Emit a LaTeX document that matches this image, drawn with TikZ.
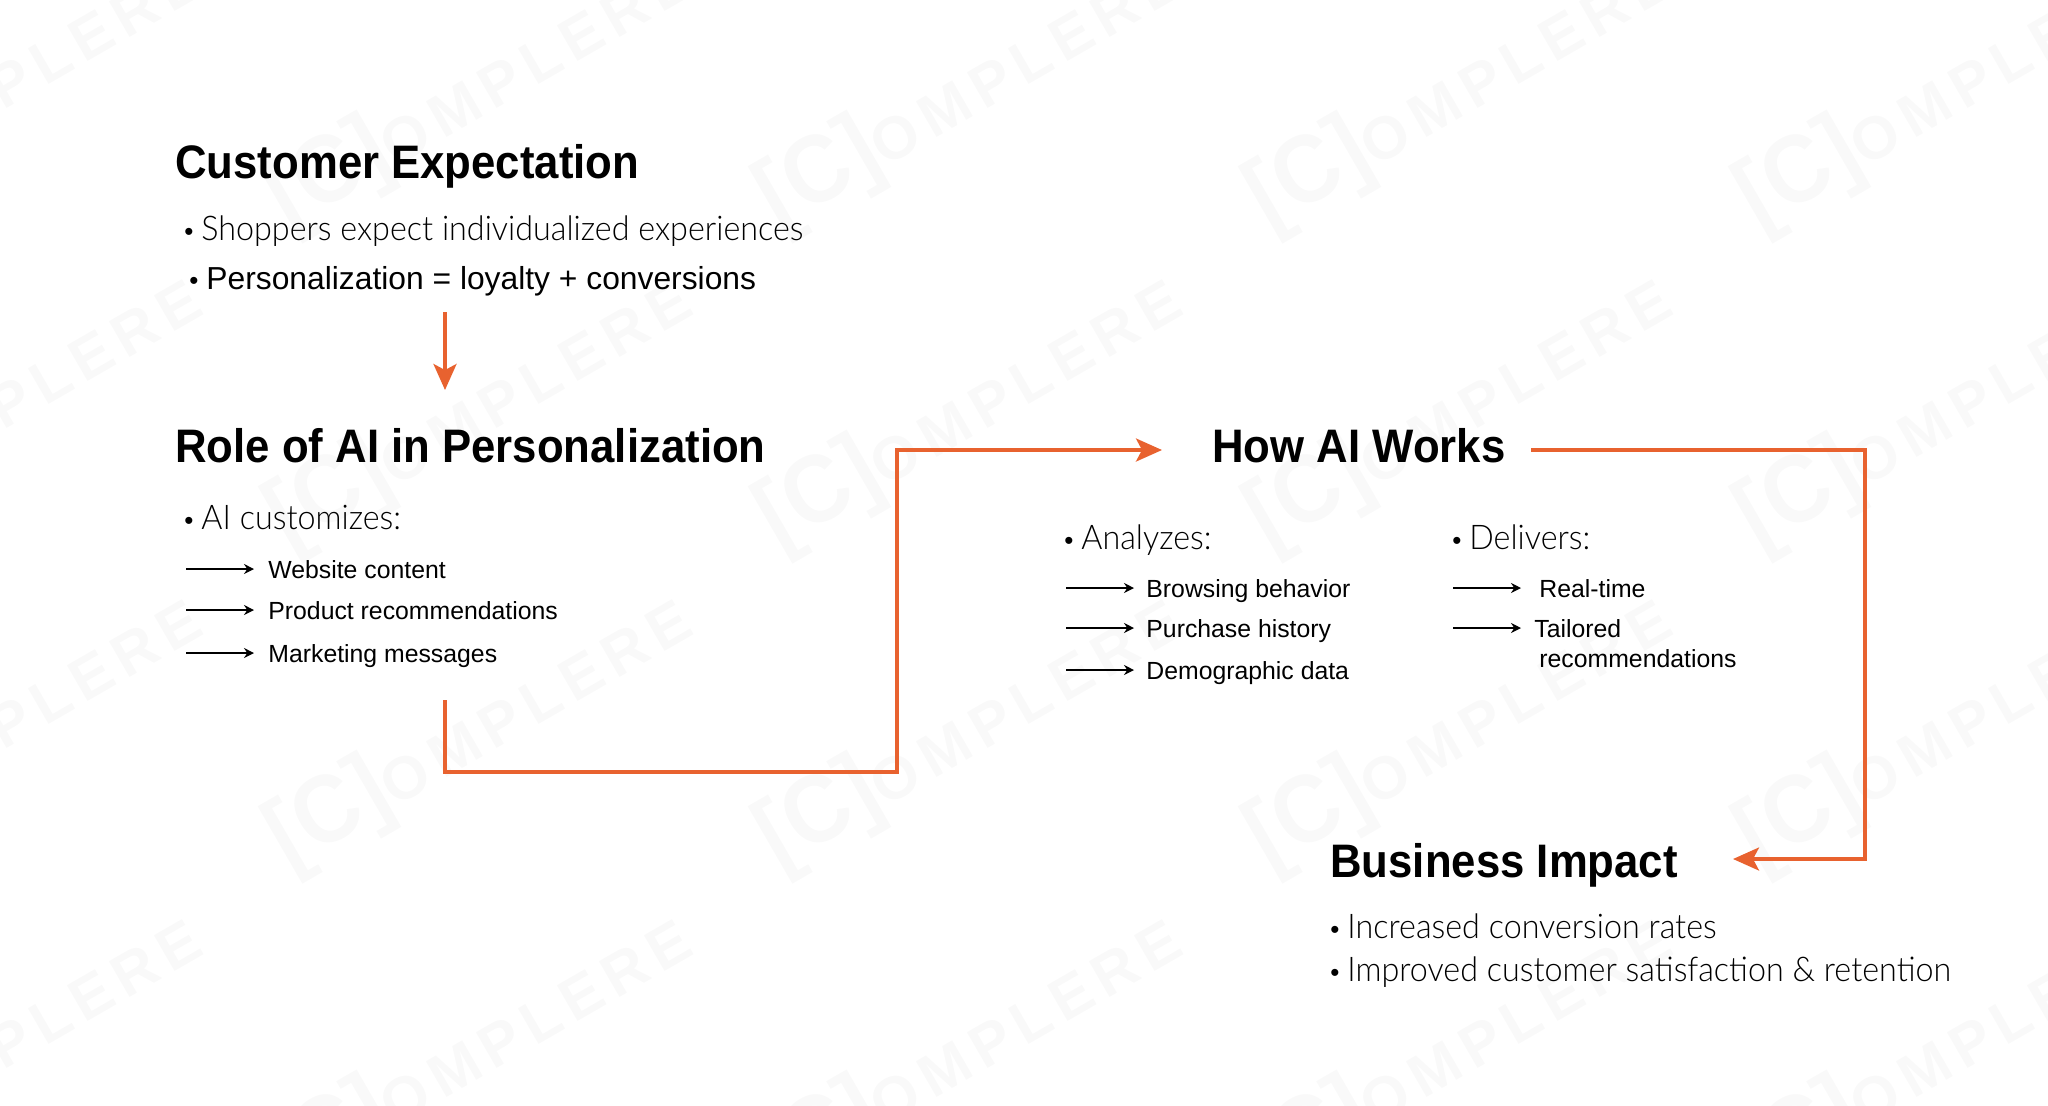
\documentclass[tikz,border=0pt]{standalone}
\usepackage{fontspec}
\setmainfont{Liberation Sans}
\newfontfamily\headfont[FakeStretch=0.93]{Liberation Sans Bold}
\newfontfamily\lightfont[FakeStretch=0.95]{Lato Light}
\newfontfamily\wmfont[LetterSpace=14]{Liberation Sans Bold}
\usetikzlibrary{arrows.meta}
\definecolor{flowred}{HTML}{E8622F}
\newcommand{\bulletmark}{\makebox[8.5pt][l]{\fontsize{13}{13}\rmfamily •}}
\tikzset{
  heading/.style={anchor=base west,inner sep=0pt,font=\fontsize{23.5}{26}\headfont},
  bodytext/.style={anchor=base west,inner sep=0pt,font=\fontsize{17}{18}\lightfont},
  darktext/.style={anchor=base west,inner sep=0pt,font=\fontsize{15.9}{18}\selectfont},
  subtext/.style={anchor=base west,inner sep=0pt,font=\fontsize{12.4}{15}\selectfont},
  flowarrow/.style={draw=flowred,line width=1.7pt,-{Stealth[length=13pt,width=11.5pt,inset=3pt]}},
  listarrow/.style={draw=black,line width=0.6pt,-{Stealth[length=5pt,width=5pt]}},
  wmark/.style={inner sep=0pt,rotate=30,text=black!2.5}
}
\begin{document}
\begin{tikzpicture}[x=0.5pt,y=-0.5pt]
\useasboundingbox (0,0) rectangle (2048,1105);
%%%%% WATERMARK %%%%%
\foreach \wx in {-10,480,970,1460,1950}
  \foreach \wy in {-230,90,410,730,1050}
    \node[wmark] (w\wx\wy) at (\wx,\wy) {\fontsize{48}{48}\headfont [C]\fontsize{30}{30}\wmfont OMPLERE};
%%%%% CUSTOMER %%%%%
\node[heading] (cust) at (175,178) {Customer Expectation};
\node[bodytext] (cust1) at (184,240) {\bulletmark Shoppers expect individualized experiences};
\node[darktext] (cust2) at (189,289) {\bulletmark Personalization = loyalty + conversions};
\coordinate (custout) at (445,312);
\coordinate (rolein) at (445,390);
\draw[flowarrow] (custout) -- (rolein);
%%%%% ROLE %%%%%
\node[heading] (role) at (175,462) {Role of AI in Personalization};
\node[bodytext] (role1) at (184,529) {\bulletmark AI customizes:};
\foreach \ly/\lname/\ltext in {569/rolea/Website content,610/roleb/Product recommendations,653/rolec/Marketing messages}{
  \node[subtext] (\lname) at (268,\ly+9) {\ltext};
  \coordinate (\lname s) at (186,\ly);
  \coordinate (\lname e) at (254,\ly);
  \draw[listarrow] (\lname s) -- (\lname e);
}
\coordinate (roleout) at (445,700);
\coordinate (howin) at (1162,450);
\draw[flowarrow] (roleout) -- (445,772) -- (897,772) -- (897,450) -- (howin);
%%%%% HOW %%%%%
\node[heading] (how) at (1212,462) {How AI Works};
\node[bodytext] (how1) at (1064,549) {\bulletmark Analyzes:};
\node[bodytext] (how2) at (1452,549) {\bulletmark Delivers:};
\foreach \ly/\lname/\ltext in {588/howa/Browsing behavior,628/howb/Purchase history,670/howc/Demographic data}{
  \node[subtext] (\lname) at (1146,\ly+9) {\ltext};
  \coordinate (\lname s) at (1066,\ly);
  \coordinate (\lname e) at (1134,\ly);
  \draw[listarrow] (\lname s) -- (\lname e);
}
\node[subtext] (real) at (1539,597) {Real-time};
\coordinate (reals) at (1453,588);
\coordinate (reale) at (1521,588);
\draw[listarrow] (reals) -- (reale);
\node[subtext] (tail) at (1534,637) {Tailored};
\node[subtext] (tail2) at (1539,667) {recommendations};
\coordinate (tails) at (1453,628);
\coordinate (taile) at (1521,628);
\draw[listarrow] (tails) -- (taile);
\coordinate (howout) at (1531,450);
\coordinate (bizin) at (1733,859);
\draw[flowarrow] (howout) -- (1865,450) -- (1865,859) -- (bizin);
%%%%% BUSINESS %%%%%
\node[heading] (biz) at (1330,877) {Business Impact};
\node[bodytext] (biz1) at (1330,938) {\bulletmark Increased conversion rates};
\node[bodytext] (biz2) at (1330,981) {\bulletmark Improved customer satisfaction \& retention};
\end{tikzpicture}
\end{document}
